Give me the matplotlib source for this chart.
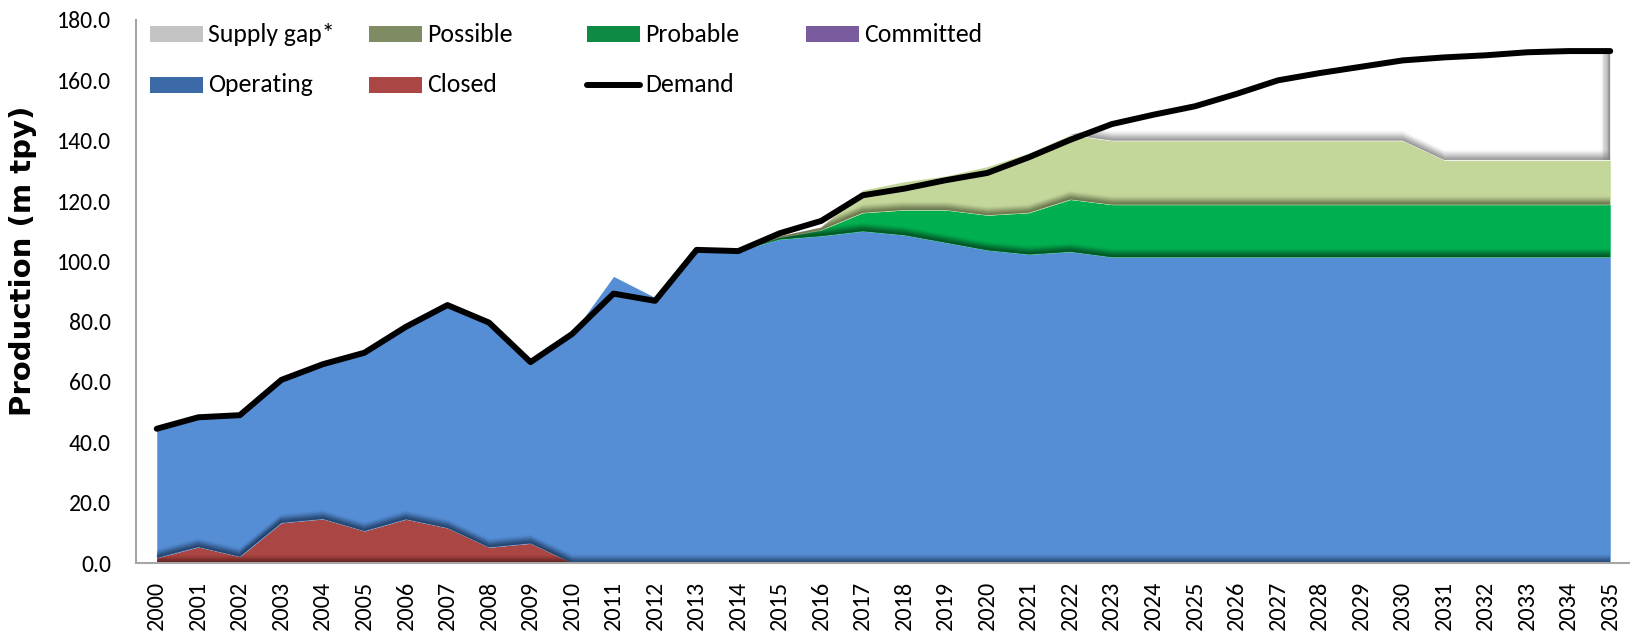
import numpy as np
import matplotlib
matplotlib.use("Agg")
import matplotlib.pyplot as plt
from matplotlib import font_manager
from matplotlib.patches import Rectangle
from matplotlib.lines import Line2D
from matplotlib.path import Path

# ---------------- data ----------------
years = list(range(2000, 2036))
year_labels = [str(y) for y in years]

demand = [44.5, 48.3, 49.0, 60.7, 65.9, 69.7, 78.3, 85.5, 79.7, 66.6,
          75.9, 89.3, 86.9, 103.8, 103.4, 109.3, 113.4, 121.9, 124.1, 126.9,
          129.3, 134.5, 140.3, 145.5, 148.6, 151.4, 155.5, 160.0, 162.4, 164.5,
          166.6, 167.6, 168.3, 169.3, 169.7, 169.7]

closed = [1.7, 5.3, 2.1, 13.3, 14.6, 10.6, 14.5, 11.6, 5.2, 6.5,
          0, 0, 0, 0, 0, 0, 0, 0, 0, 0,
          0, 0, 0, 0, 0, 0, 0, 0, 0, 0,
          0, 0, 0, 0, 0, 0]

operating = [42.8, 43.0, 46.9, 47.4, 51.3, 59.1, 63.8, 73.9, 74.5, 60.1,
             75.9, 95.0, 88.0, 103.8, 103.4, 107.3, 108.4, 110.0, 108.7, 106.2,
             103.7, 102.3, 103.2, 101.4, 101.4, 101.4, 101.4, 101.4, 101.4, 101.4,
             101.4, 101.4, 101.4, 101.4, 101.4, 101.4]

committed = [0] * 36

probable = [0, 0, 0, 0, 0, 0, 0, 0, 0, 0,
            0, 0, 0, 0, 0, 0.5, 2.0, 6.1, 8.3, 10.8,
            11.6, 13.8, 17.3, 17.4, 17.4, 17.4, 17.4, 17.4, 17.4, 17.4,
            17.4, 17.4, 17.4, 17.4, 17.4, 17.4]

possible = [0, 0, 0, 0, 0, 0, 0, 0, 0, 0,
            0, 0, 0, 0, 0, 0.5, 0.8, 7.5, 9.4, 11.3,
            16.1, 19.8, 21.4, 21.2, 21.2, 21.2, 21.2, 21.2, 21.2, 21.2,
            21.2, 14.8, 14.8, 14.8, 14.8, 14.8]

supply_gap = [0, 0, 0, 0, 0, 0, 0, 0, 0, 0,
              0, 0, 0, 0, 0, 0, 0, 0, 0, 0,
              0, 0, 0, 5.5, 8.6, 11.4, 15.5, 20.0, 22.4, 24.5,
              26.6, 34.0, 34.7, 35.7, 36.1, 36.1]

y_ticks = [0, 20, 40, 60, 80, 100, 120, 140, 160, 180]

# ---------------- fonts ----------------
avail = {f.name for f in font_manager.fontManager.ttflist}
base_font = next((f for f in ["Carlito", "Lato", "Open Sans"] if f in avail), "DejaVu Sans")
plt.rcParams["font.family"] = [base_font, "DejaVu Sans"]

W, H = 1631, 636
fig = plt.figure(figsize=(W / 100, H / 100), dpi=100)
ax_l, ax_r, ax_b, ax_t = 136, 1631, 563, 20
ax = fig.add_axes([ax_l / W, 1 - ax_b / H, (ax_r - ax_l) / W, (ax_b - ax_t) / H])

x = np.array(years, dtype=float)
layers = [
    ("Closed", closed, "#AA4643", "#5a1f1d", 2.6),
    ("Operating", operating, "#558ED5", "#1c3557", 3.0),
    ("Committed", committed, "#8064A2", "#3e2d55", 2.6),
    ("Probable", probable, "#00B050", "#07401f", 3.0),
    ("Possible", possible, "#C4D79B", "#59633f", 3.0),
    ("Supply gap*", supply_gap, "#FFFFFF", "#808080", 3.5),
]

bottom = np.zeros_like(x)
for name, vals, col, dark, depth in layers:
    v = np.array(vals, dtype=float)
    top = bottom + v
    ax.fill_between(x, bottom, top, color=col, linewidth=0, zorder=2)
    verts = np.vstack([np.column_stack([x, top]), np.column_stack([x[::-1], bottom[::-1]])])
    clip = Path(verts)
    # inner shadow along the lower edge of the area
    n = 12
    for i in range(n):
        ln, = ax.plot(x, bottom + depth * i / n, color=dark, lw=1.6,
                      alpha=0.5 * (1 - i / n) ** 1.6, zorder=3, solid_capstyle="butt")
        ln.set_clip_path(clip, ax.transData)
    if name == "Supply gap*":
        for i in range(n):
            ln = ax.axvline(x[-1] - 0.02 * i, color=dark, lw=1.6,
                            alpha=0.5 * (1 - i / n) ** 1.6, zorder=3)
            ln.set_clip_path(clip, ax.transData)
    bottom = top

ax.plot(x, demand, color="black", lw=4.3, solid_capstyle="round",
        solid_joinstyle="round", zorder=6, clip_on=False)

ax.set_xlim(1999.5, 2035.5)
ax.set_ylim(0, 180)
ax.set_yticks(y_ticks)
ax.set_yticklabels([f"{v:.1f}" for v in y_ticks], fontsize=17)
ax.set_xticks(x)
ax.set_xticklabels(year_labels, rotation=90, fontsize=17.5)
ax.tick_params(axis="both", length=0)
ax.tick_params(axis="y", pad=18)
ax.tick_params(axis="x", pad=13)
for s in ["top", "right"]:
    ax.spines[s].set_visible(False)
for s in ["left", "bottom"]:
    ax.spines[s].set_color("#a6a6a6")
    ax.spines[s].set_linewidth(1.5)
    ax.spines[s].set_zorder(5)

fig.text(23 / W, 1 - 261 / H, "Production (m tpy)", rotation=90, ha="center",
         va="center", fontsize=21, fontweight="bold", family=["DejaVu Sans"])

# ---------------- legend ----------------
leg = [
    (0, 0, "Supply gap*", "#c4c4c4", "patch"),
    (1, 0, "Possible", "#7f8b62", "patch"),
    (2, 0, "Probable", "#0e8a44", "patch"),
    (3, 0, "Committed", "#7a5c9e", "patch"),
    (0, 1, "Operating", "#3c6aa6", "patch"),
    (1, 1, "Closed", "#AA4643", "patch"),
    (2, 1, "Demand", "black", "line"),
]
col_x = [150, 369, 587, 806]
row_y = [34, 85]
pw, ph = 53, 15
for c, r, label, color, kind in leg:
    px, py = col_x[c], row_y[r]
    if kind == "patch":
        fig.patches.append(Rectangle((px / W, 1 - (py + ph / 2) / H), pw / W, ph / H,
                                     transform=fig.transFigure, facecolor=color,
                                     edgecolor="none"))
    else:
        fig.lines.append(Line2D([px / W, (px + pw) / W], [1 - py / H, 1 - py / H],
                                transform=fig.transFigure, color=color, lw=4.3,
                                solid_capstyle="round"))
    fig.text((px + pw + 5) / W, 1 - py / H, label, ha="left", va="center",
             fontsize=18.5)

fig.savefig("out.png", dpi=100)
